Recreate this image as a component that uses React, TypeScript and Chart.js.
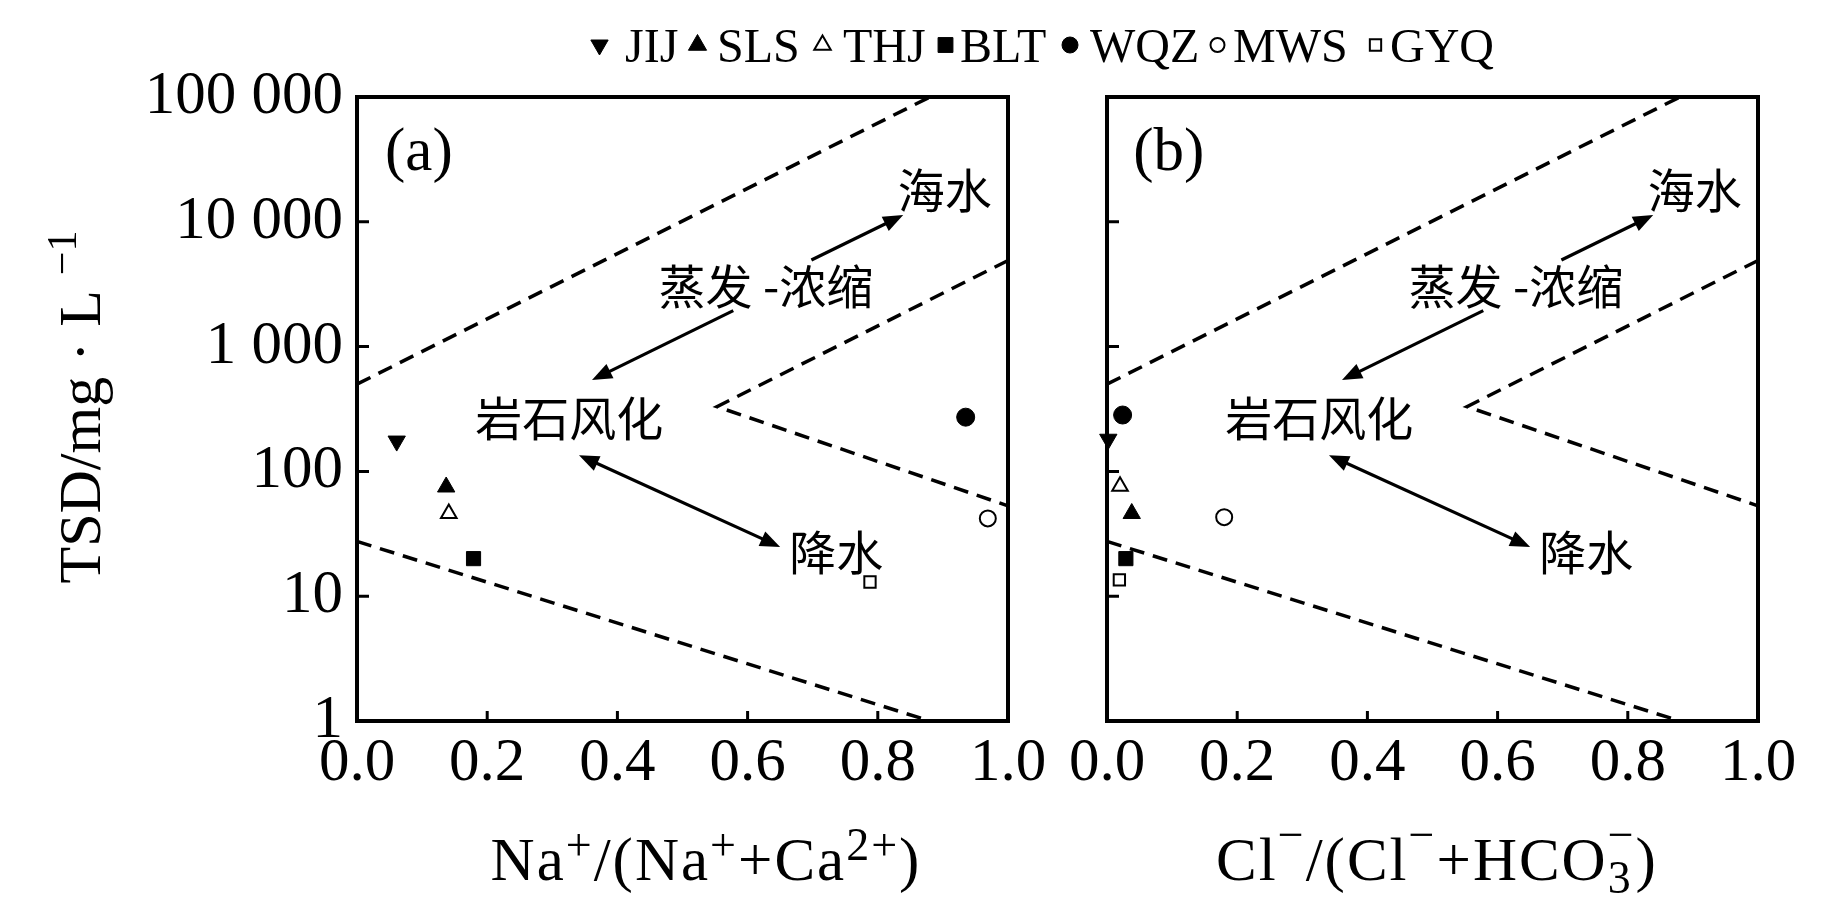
import React, { useEffect, useRef } from 'react';
import { Chart, registerables } from 'chart.js';
import { drawPoint } from 'chart.js/helpers';

Chart.register(...registerables);

// ---------------- data ----------------
const SITES = ['JIJ', 'SLS', 'THJ', 'BLT', 'WQZ', 'MWS', 'GYQ'];
const NA_RATIO = [0.061, 0.137, 0.141, 0.179, 0.935, 0.969, 0.788];
const TSD_A = [175, 75, 46, 20, 272, 42, 13];
const CL_RATIO = [0.002, 0.038, 0.02, 0.029, 0.024, 0.18, 0.019];
const TSD_B = [181, 46, 76, 20, 283, 43, 13.5];

const X_TICKS = [0, 0.2, 0.4, 0.6, 0.8, 1.0];
const Y_TICKS = [1, 10, 100, 1000, 10000, 100000];

// Gibbs boundary (dashed) lines
const UPPER_X = [0, 0.88];
const UPPER_Y = [500, 100000];
const LOWER_X = [0, 0.88];
const LOWER_Y = [27.5, 1];
const WEDGE_X = [1, 0.553, 1];
const WEDGE_Y = [4900, 330, 53];

// annotation labels (data coordinates)
const LABEL_TEXT = ['海水', '蒸发 -浓缩', '岩石风化', '降水'];
const LABEL_X = [0.903, 0.628, 0.326, 0.736];
const LABEL_Y = [17990, 3062, 268, 22.6];

// arrows: [x1, y1, x2, y2, headAtStart]
const ARROWS: [number, number, number, number, boolean][] = [
  [0.698, 4943, 0.839, 11324, false],
  [0.578, 1941, 0.361, 540, false],
  [0.65, 24.8, 0.341, 135, true],
];

// ---------------- styles ----------------
const SERIF = '"Liberation Serif", "Times New Roman", serif';
const CJK = '"Noto Sans CJK SC", "Noto Sans CJK TC", sans-serif';
const W = 1843;
const H = 903;

const MARKERS = [
  { style: 'triangle', rotation: 180, fill: '#000', r: 10, lr: 10 },
  { style: 'triangle', rotation: 0, fill: '#000', r: 10, lr: 10.5 },
  { style: 'triangle', rotation: 0, fill: '#fff', r: 9, lr: 9.5 },
  { style: 'rect', rotation: 0, fill: '#000', r: 10, lr: 10.5 },
  { style: 'circle', rotation: 0, fill: '#000', r: 9, lr: 8 },
  { style: 'circle', rotation: 0, fill: '#fff', r: 8, lr: 7 },
  { style: 'rect', rotation: 0, fill: '#fff', r: 8, lr: 8 },
];

const LEGEND_MARK_X = [599.5, 697.5, 822.5, 945.5, 1070, 1217.5, 1375.5];
const LEGEND_TEXT_X = [625, 717, 843, 960, 1090, 1233, 1390];

type Seg = { t: string; s?: boolean; dy?: number; stack?: boolean };

const TITLE_A: Seg[] = [
  { t: 'Na' }, { t: '+', s: true, dy: -20 }, { t: '/(Na' }, { t: '+', s: true, dy: -20 },
  { t: '+Ca' }, { t: '2+', s: true, dy: -20 }, { t: ')' },
];
const TITLE_B: Seg[] = [
  { t: 'Cl' }, { t: '−', s: true, dy: -30 }, { t: '/(Cl' }, { t: '−', s: true, dy: -30 },
  { t: '+HCO' }, { t: '3', s: true, dy: 13, stack: true }, { t: '−', s: true, dy: -30 }, { t: ')' },
];
const Y_TITLE: Seg[] = [{ t: 'TSD/mg · L ' }, { t: '−1', s: true, dy: -24 }];

function fmtThousands(v: number) {
  return String(v).replace(/\B(?=(\d{3})+(?!\d))/g, ' ');
}

function richWidth(ctx: CanvasRenderingContext2D, segs: Seg[], size: number, small: number) {
  let w = 0;
  for (let i = 0; i < segs.length; i++) {
    const sg = segs[i];
    ctx.font = `${sg.s ? small : size}px ${SERIF}`;
    let adv = ctx.measureText(sg.t).width;
    if (sg.stack && i + 1 < segs.length) {
      const n = segs[i + 1];
      ctx.font = `${n.s ? small : size}px ${SERIF}`;
      adv = Math.max(adv, ctx.measureText(n.t).width);
      i++;
    }
    w += adv;
  }
  return w;
}

function drawRich(ctx: CanvasRenderingContext2D, segs: Seg[], x0: number, base: number, size: number, small: number) {
  let x = x0;
  ctx.textAlign = 'left';
  ctx.textBaseline = 'alphabetic';
  for (let i = 0; i < segs.length; i++) {
    const sg = segs[i];
    ctx.font = `${sg.s ? small : size}px ${SERIF}`;
    ctx.fillText(sg.t, x, base + (sg.dy || 0));
    let adv = ctx.measureText(sg.t).width;
    if (sg.stack && i + 1 < segs.length) {
      const n = segs[i + 1];
      ctx.font = `${n.s ? small : size}px ${SERIF}`;
      ctx.fillText(n.t, x, base + (n.dy || 0));
      adv = Math.max(adv, ctx.measureText(n.t).width);
      i++;
    }
    x += adv;
  }
}

function arrowHead(ctx: CanvasRenderingContext2D, tx: number, ty: number, ang: number) {
  const L = 20;
  const hw = 8;
  ctx.beginPath();
  ctx.moveTo(tx, ty);
  ctx.lineTo(tx - L * Math.cos(ang) + hw * Math.sin(ang), ty - L * Math.sin(ang) - hw * Math.cos(ang));
  ctx.lineTo(tx - L * Math.cos(ang) - hw * Math.sin(ang), ty - L * Math.sin(ang) + hw * Math.cos(ang));
  ctx.closePath();
  ctx.fill();
}

function makePlugin(panel: 'a' | 'b') {
  return {
    id: 'panel_' + panel,
    afterDatasetsDraw(chart: any) {
      const { ctx, chartArea: ca, scales } = chart;
      const xs = scales.x;
      const ys = scales.y;
      ctx.save();
      ctx.fillStyle = '#000';
      ctx.strokeStyle = '#000';
      ctx.setLineDash([]);
      // frame
      ctx.lineWidth = 4;
      ctx.strokeRect(ca.left, ca.top, ca.right - ca.left, ca.bottom - ca.top);
      // inward ticks
      ctx.lineWidth = 3;
      ctx.beginPath();
      for (const t of ys.ticks) {
        const py = ys.getPixelForValue(t.value);
        ctx.moveTo(ca.left, py);
        ctx.lineTo(ca.left + 12, py);
      }
      for (const t of xs.ticks) {
        const px = xs.getPixelForValue(t.value);
        ctx.moveTo(px, ca.bottom);
        ctx.lineTo(px, ca.bottom - 10);
      }
      ctx.stroke();

      // arrows
      ctx.lineWidth = 3.2;
      for (const [x1, y1, x2, y2, both] of ARROWS) {
        const p1x = xs.getPixelForValue(x1), p1y = ys.getPixelForValue(y1);
        const p2x = xs.getPixelForValue(x2), p2y = ys.getPixelForValue(y2);
        const ang = Math.atan2(p2y - p1y, p2x - p1x);
        const sx = both ? p1x + 14 * Math.cos(ang) : p1x;
        const sy = both ? p1y + 14 * Math.sin(ang) : p1y;
        ctx.beginPath();
        ctx.moveTo(sx, sy);
        ctx.lineTo(p2x - 14 * Math.cos(ang), p2y - 14 * Math.sin(ang));
        ctx.stroke();
        arrowHead(ctx, p2x, p2y, ang);
        if (both) arrowHead(ctx, p1x, p1y, ang + Math.PI);
      }

      // Chinese labels
      ctx.font = `47px ${CJK}`;
      ctx.textAlign = 'center';
      ctx.textBaseline = 'middle';
      LABEL_TEXT.forEach((t, i) => {
        ctx.fillText(t, xs.getPixelForValue(LABEL_X[i]), ys.getPixelForValue(LABEL_Y[i]));
      });

      // panel letter
      ctx.font = `61px ${SERIF}`;
      ctx.fillText(panel === 'a' ? '(a)' : '(b)', xs.getPixelForValue(0.095), ys.getPixelForValue(34914));

      // x title
      const segs = panel === 'a' ? TITLE_A : TITLE_B;
      try { (ctx as any).letterSpacing = '2px'; } catch (e) {}
      const tw = richWidth(ctx, segs, 61, 46);
      const cx = panel === 'a' ? 706 : 1437;
      drawRich(ctx, segs, cx - tw / 2, 880, 61, 46);
      try { (ctx as any).letterSpacing = '0px'; } catch (e) {}

      if (panel === 'a') {
        // y title
        const yw = richWidth(ctx, Y_TITLE, 60, 42);
        ctx.save();
        ctx.translate(100, 407);
        ctx.rotate(-Math.PI / 2);
        drawRich(ctx, Y_TITLE, -yw / 2, 0, 60, 42);
        ctx.restore();

        // legend
        SITES.forEach((name, i) => {
          const m = MARKERS[i];
          ctx.fillStyle = m.fill;
          ctx.strokeStyle = '#000';
          ctx.lineWidth = m.fill === '#fff' ? 2 : 1;
          drawPoint(ctx, { pointStyle: m.style as any, rotation: m.rotation, radius: m.lr, borderWidth: ctx.lineWidth }, LEGEND_MARK_X[i], 45);
          ctx.fillStyle = '#000';
          ctx.font = `48px ${SERIF}`;
          ctx.textAlign = 'left';
          ctx.textBaseline = 'alphabetic';
          ctx.fillText(name, LEGEND_TEXT_X[i], 62);
        });
      }
      ctx.restore();
    },
  };
}

function makeConfig(panel: 'a' | 'b'): any {
  const xv = panel === 'a' ? NA_RATIO : CL_RATIO;
  const yv = panel === 'a' ? TSD_A : TSD_B;
  const lineDs = (X: number[], Y: number[]) => ({
    data: X.map((x, i) => ({ x, y: Y[i] })),
    showLine: true,
    borderColor: '#000',
    borderWidth: 3.5,
    borderDash: [15, 9],
    pointRadius: 0,
    fill: false,
    tension: 0,
    clip: false,
  });
  const pointDs = SITES.map((name, i) => ({
    label: name,
    data: [{ x: xv[i], y: yv[i] }],
    showLine: false,
    pointStyle: MARKERS[i].style,
    rotation: MARKERS[i].rotation,
    pointRadius: MARKERS[i].r,
    backgroundColor: MARKERS[i].fill,
    borderColor: '#000',
    borderWidth: MARKERS[i].fill === '#fff' ? 2 : 1,
    clip: false,
  }));
  const left = panel === 'a' ? 357 : 1107;
  const right = panel === 'a' ? 1008 : 1758;
  return {
    type: 'scatter',
    data: {
      datasets: [lineDs(UPPER_X, UPPER_Y), lineDs(LOWER_X, LOWER_Y), lineDs(WEDGE_X, WEDGE_Y), ...pointDs],
    },
    options: {
      responsive: false,
      animation: false,
      events: [],
      layout: { padding: { top: 97, right: W - right, bottom: 0, left: 0 } },
      plugins: { legend: { display: false }, tooltip: { enabled: false }, title: { display: false } },
      scales: {
        x: {
          type: 'linear',
          min: 0,
          max: 1,
          position: 'bottom',
          afterBuildTicks: (s: any) => { s.ticks = X_TICKS.map((v) => ({ value: v })); },
          afterFit: (s: any) => { s.height = H - 721; },
          grid: { display: false, drawTicks: false },
          border: { display: false },
          ticks: {
            font: { family: SERIF, size: 61 },
            color: '#000',
            padding: 6,
            autoSkip: false,
            maxRotation: 0,
            callback: (v: any) => Number(v).toFixed(1),
          },
        },
        y: {
          type: 'logarithmic',
          min: 1,
          max: 100000,
          position: 'left',
          afterBuildTicks: (s: any) => { s.ticks = Y_TICKS.map((v) => ({ value: v })); },
          afterFit: (s: any) => { s.width = left; },
          grid: { display: false, drawTicks: false },
          border: { display: false },
          ticks: {
            display: panel === 'a',
            font: { family: SERIF, size: 61 },
            color: '#000',
            padding: 14,
            callback: (v: any) => fmtThousands(Number(v)),
          },
        },
      },
    },
    plugins: [makePlugin(panel)],
  };
}

export default function App() {
  const refA = useRef<HTMLCanvasElement>(null);
  const refB = useRef<HTMLCanvasElement>(null);
  useEffect(() => {
    document.body.style.margin = '0';
    document.body.style.overflow = 'hidden';
    const a = new Chart(refA.current as HTMLCanvasElement, makeConfig('a'));
    const b = new Chart(refB.current as HTMLCanvasElement, makeConfig('b'));
    return () => {
      a.destroy();
      b.destroy();
    };
  }, []);
  const cs: React.CSSProperties = { position: 'absolute', left: 0, top: 0, width: W, height: H };
  return (
    <div style={{ position: 'relative', width: W, height: H, background: '#fff' }}>
      <canvas ref={refA} width={W} height={H} style={cs} />
      <canvas ref={refB} width={W} height={H} style={cs} />
    </div>
  );
}
